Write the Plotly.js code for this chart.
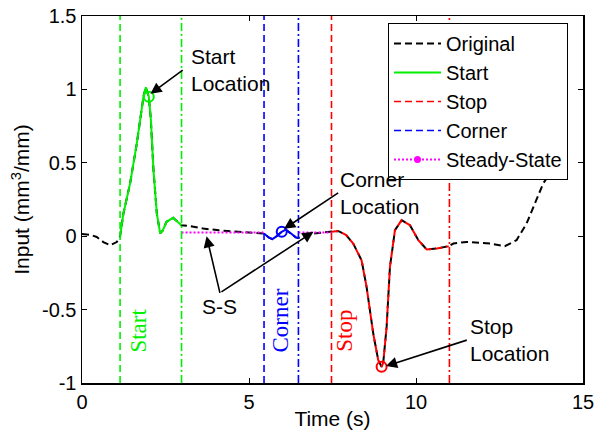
<!DOCTYPE html>
<html>
<head>
<meta charset="utf-8">
<script src="https://cdn.plot.ly/plotly-3.0.1.min.js"></script>
<style>html,body{margin:0;padding:0;background:#fff;}#chart{width:595px;height:437px;}</style>
</head>
<body>
<div id="chart"></div>
<script>
// ---- data ----
var origT = [0, 0.24, 0.44, 0.64, 0.84, 1.04, 1.14, 1.24, 1.44, 1.64, 1.84, 1.91, 2.0, 2.06, 2.14, 2.24, 2.34, 2.42, 2.53, 2.73, 2.85, 2.98,
             3.2, 3.63, 4.1, 4.63, 5.0, 5.45, 5.6, 5.7, 5.8, 5.98, 6.1, 6.25, 6.4, 6.48, 6.7, 6.93, 7.2, 7.47,
             7.67, 7.9, 8.12, 8.37, 8.52, 8.72, 8.87, 8.97, 9.02, 9.12, 9.22, 9.37, 9.57, 9.82, 10.07, 10.32, 10.62, 10.98,
             11.12, 11.52, 12.22, 12.66, 13.01, 13.31, 13.56, 13.81, 13.91, 14.16];
var origY = [0.015, 0.01, -0.005, -0.04, -0.062, -0.04, 0.0, 0.155, 0.36, 0.63, 0.95, 1.015, 0.95, 0.8, 0.45, 0.155, 0.02, 0.04, 0.098, 0.125, 0.1, 0.075,
             0.07, 0.052, 0.04, 0.03, 0.025, 0.018, -0.01, -0.02, -0.005, 0.03, 0.045, 0.02, -0.008, -0.012, 0.005, 0.018, 0.025, 0.03,
             0.036, 0.01, -0.05, -0.164, -0.345, -0.663, -0.845, -0.89, -0.86, -0.618, -0.209, 0.041, 0.109, 0.075, -0.027, -0.09, -0.084, -0.068,
             -0.05, -0.039, -0.05, -0.068, -0.027, 0.086, 0.223, 0.36, 0.393, 0.404];
var startRange = [1.14, 2.98];
var cornerRange = [5.45, 6.48];
var stopRange = [7.47, 10.98];
var stopEndLine = 11.0;
var steadyT = [2.98, 5.45, null, 6.48, 7.47];
var steadyY = [0.025, 0.025, null, 0.025, 0.025];
var locT = [2.0, 5.98, 8.97];           // start, corner, stop locations
var legendNames = ['Original', 'Start', 'Stop', 'Corner', 'Steady-State'];
var xTicks = [0, 5, 10, 15];
var xTickText = ['0', '5', '10', '15'];
var yTicks = [-1, -0.5, 0, 0.5, 1, 1.5];
var yTickText = ['-1', '-0.5', '0', '0.5', '1', '1.5'];

// ---- helpers ----
function seg(r) {
  var t = [], y = [];
  for (var i = 0; i < origT.length; i++) {
    if (origT[i] >= r[0] - 1e-9 && origT[i] <= r[1] + 1e-9) { t.push(origT[i]); y.push(origY[i]); }
  }
  return {t: t, y: y};
}
function yAt(tv) { return origY[origT.indexOf(tv)]; }

var GREEN = 'rgb(0,240,0)', RED = 'rgb(255,0,0)', BLUE = 'rgb(0,0,255)', MAG = 'rgb(255,0,255)';
var DASH = '7px,4px', DASHDOT = '8px,3px,2px,3px', DOT = '2px,2px';
var sS = seg(startRange), sC = seg(cornerRange), sP = seg(stopRange);

function vline(x, color, dash, name, show, rank) {
  return {x: [x, x], y: [yTicks[0], yTicks[yTicks.length - 1]], mode: 'lines', name: name || 'boundary',
          showlegend: !!show, legendgroup: name || ('v' + x), legendrank: rank || 1000,
          line: {color: color, width: 1.6, dash: dash}, hoverinfo: 'skip'};
}

var traces = [
  {x: origT, y: origY, mode: 'lines', name: legendNames[0], legendgroup: 'g1', legendrank: 1,
   line: {color: 'black', width: 2, dash: DASH}},
  {x: steadyT, y: steadyY, mode: 'lines', name: 'Steady-State line', showlegend: false,
   line: {color: MAG, width: 2, dash: DOT}},
  // legend entry for the steady-state style (dotted line with point marker)
  {x: [null], y: [null], mode: 'lines+markers', name: legendNames[4], legendgroup: 'g5', legendrank: 5,
   line: {color: MAG, width: 2, dash: DOT}, marker: {color: MAG, size: 7}},
  {x: sS.t, y: sS.y, mode: 'lines', name: legendNames[1], legendgroup: 'g2', legendrank: 2,
   line: {color: GREEN, width: 2}},
  {x: sP.t, y: sP.y, mode: 'lines', name: 'Stop curve', showlegend: false,
   line: {color: RED, width: 2, dash: DASH}},
  {x: sC.t, y: sC.y, mode: 'lines', name: 'Corner curve', showlegend: false,
   line: {color: BLUE, width: 2}},
  vline(startRange[0], GREEN, DASH),
  vline(startRange[1], GREEN, DASHDOT),
  vline(cornerRange[0], BLUE, DASH, legendNames[3], true, 4),
  vline(cornerRange[1], BLUE, DASHDOT),
  vline(stopRange[0], RED, DASH, legendNames[2], true, 3),
  vline(stopEndLine, RED, DASHDOT),
  {x: [locT[0]], y: [yAt(locT[0])], mode: 'markers', showlegend: false,
   marker: {symbol: 'circle-open', size: 10, color: GREEN, line: {width: 2, color: GREEN}}},
  {x: [locT[1]], y: [yAt(locT[1])], mode: 'markers', showlegend: false,
   marker: {symbol: 'circle-open', size: 10, color: BLUE, line: {width: 2, color: BLUE}}},
  {x: [locT[2]], y: [yAt(locT[2])], mode: 'markers', showlegend: false,
   marker: {symbol: 'circle-open', size: 10, color: RED, line: {width: 2, color: RED}}}
];

var SANS = 'Arial, "Liberation Sans", sans-serif';
var SERIF = '"Times New Roman", "Liberation Serif", serif';

// label with its arrow: text box's left-middle sits at the arrow tail
function callout(x, y, ax, ay, txt, pad, xa, ya) {
  return {x: x, y: y, ax: ax, ay: ay, xref: 'x', yref: 'y', axref: 'x', ayref: 'y', text: txt,
          showarrow: true, arrowhead: 2, arrowsize: 1.4, arrowwidth: 1.6, arrowcolor: 'black', standoff: 0,
          xanchor: xa || 'left', yanchor: ya || 'middle', align: 'left', borderpad: pad,
          font: {family: SANS, size: 21, color: 'black'}};
}
function vlabel(x, y, txt, color) {
  return {x: x, y: y, xref: 'x', yref: 'y', text: txt, showarrow: false, textangle: -90,
          font: {family: SERIF, size: 23, color: color}};
}

var annotations = [
  callout(2.05, 0.97, 3.015, 1.131, 'Start<br>Location', 7),
  callout(6.05, 0.05, 7.67, 0.295, 'Corner<br>Location', 1),
  callout(3.73, 0.0, 4.13, -0.386, 'S-S', 1, 'center', 'top'),
  {x: 6.93, y: 0.03, ax: 4.13, ay: -0.386, xref: 'x', yref: 'y', axref: 'x', ayref: 'y', text: '',
   showarrow: true, arrowhead: 2, arrowsize: 1.4, arrowwidth: 1.6, arrowcolor: 'black', standoff: 0},
  callout(9.1, -0.885, 11.52, -0.708, 'Stop<br>Location', 2),
  vlabel(1.69, -0.64, 'Start', GREEN),
  vlabel(5.94, -0.572, 'Corner', BLUE),
  vlabel(7.86, -0.647, 'Stop', RED)
];

var layout = {
  width: 595, height: 437,
  margin: {l: 82, r: 12, t: 16, b: 54, pad: 0},
  paper_bgcolor: 'white', plot_bgcolor: 'white',
  font: {family: SANS, size: 20, color: 'black'},
  showlegend: true,
  legend: {x: 0.6108, y: 0.981, xanchor: 'left', yanchor: 'top', bgcolor: 'white',
           bordercolor: 'black', borderwidth: 1, font: {family: SANS, size: 20, color: 'black'},
           tracegroupgap: 0, traceorder: 'normal', itemwidth: 47},
  xaxis: {range: [0, 15], tickvals: xTicks, ticktext: xTickText, ticks: 'inside', ticklen: 5, tickwidth: 1,
          tickcolor: 'black', showline: true, linecolor: 'black', linewidth: 1.5, mirror: 'ticks',
          showgrid: false, zeroline: false, tickfont: {family: SANS, size: 20},
          title: {text: 'Time (s)', font: {family: SANS, size: 21}, standoff: 0}},
  yaxis: {range: [-1, 1.5], tickvals: yTicks, ticktext: yTickText, ticks: 'inside', ticklen: 5, tickwidth: 1,
          tickcolor: 'black', showline: true, linecolor: 'black', linewidth: 1.5, mirror: 'ticks',
          showgrid: false, zeroline: false, tickfont: {family: SANS, size: 20},
          title: {text: 'Input (mm<sup>3</sup>/mm)', font: {family: SANS, size: 21}, standoff: 6}},
  annotations: annotations
};

Plotly.newPlot('chart', traces, layout, {staticPlot: true, displayModeBar: false});
</script>
</body>
</html>
